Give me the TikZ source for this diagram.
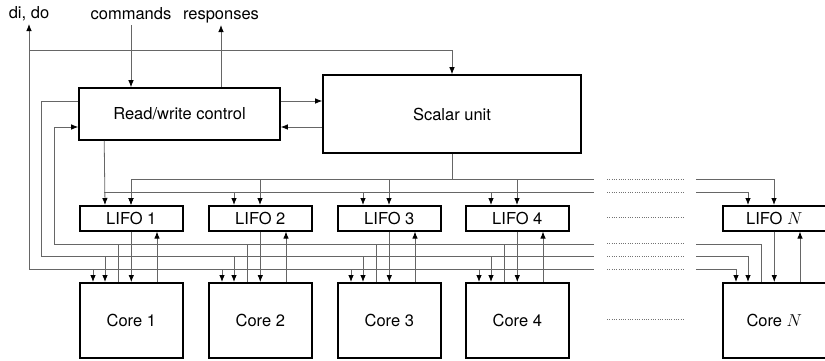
\documentclass[tikz,border=0pt]{standalone}
\usepackage{fontspec}
\setmainfont{TeX Gyre Heros}
\usetikzlibrary{arrows.meta,calc}
\begin{document}
\begin{tikzpicture}[x=1pt,y=-1pt,
  font=\fontsize{16.5}{19}\selectfont,
  box/.style={draw,line width=1.6pt,inner sep=0pt},
  wire/.style={draw=black!60,line width=0.8pt},
  arr/.style={wire,-{Latex[length=7pt,width=5.5pt,color=black]}},
  dots/.style={draw=black!55,line width=0.7pt,dash pattern=on 0.7pt off 1.6pt},
  lbl/.style={inner sep=1pt,text height=12pt,text depth=4pt,anchor=south},
]
\useasboundingbox (0,0) rectangle (825,360);

% main blocks
\node[box,minimum width=201pt,minimum height=52pt] (rw) at (179.5,114) {Read/write control};
\node[box,minimum width=258pt,minimum height=78pt] (su) at (452,114) {Scalar unit};

% LIFOs and cores, one column each
\foreach \k/\x/\t in {1/79/1,2/208/2,3/337/3,4/465/4,N/722/$N$}{
  \node[box,minimum width=103pt,minimum height=25pt,anchor=north west] (lifo\k) at (\x,205) {LIFO \t};
  \node[box,minimum width=103pt,minimum height=75pt,anchor=north west] (core\k) at (\x,282) {Core \t};
  \coordinate (a\k) at ($(core\k.north west)+(14,0)$);
  \coordinate (b\k) at ($(core\k.north west)+(26,0)$);
  \coordinate (c\k) at ($(core\k.north west)+(39,0)$);
  \coordinate (f\k) at ($(core\k.north west)+(78,0)$);
  \coordinate (d\k) at ($(lifo\k.north west)+(26,0)$);
  \coordinate (e\k) at ($(lifo\k.north west)+(52,0)$);
}

% external signals
\node[lbl] (dido) at (29,24) {di, do};
\node[lbl] (cmd) at (131,25) {commands};
\node[lbl] (resp) at (221,25) {responses};

% bus levels and the gap before column N
\coordinate (yA) at (0,269);
\coordinate (yB) at (0,256);
\coordinate (yC) at (0,244);
\coordinate (yD) at (0,192);
\coordinate (yE) at (0,179);
\coordinate (gapL) at (594,0);
\coordinate (gapR) at (696,0);

% commands / responses
\draw[arr] (cmd.south) -- (cmd.south |- rw.north);
\draw[arr] (resp.south |- rw.north) -- (resp.south);

% read/write control <-> scalar unit
\draw[arr] ($(rw.east)+(0,-13)$) -- ($(su.west)+(0,-13)$);
\draw[arr] ($(su.west)+(0,13)$) -- ($(rw.east)+(0,13)$);

% di/do bus
\coordinate (ddB) at (29,269);
\coordinate (ddTap) at (29,50);
\draw[arr] (ddB) -- (dido.south);
\draw[arr] (ddTap) -| (su.north);
\draw[wire] (ddB) -- (gapL |- yA);
\draw[arr] (gapR |- yA) -| (aN);

% read/write control -> cores
\coordinate (rwOut) at ($(rw.west)+(0,-13)$);
\draw[wire] (rwOut) -| (41,256) -- (gapL |- yB);
\draw[arr] (gapR |- yB) -| (bN);

% cores -> read/write control
\coordinate (rwIn) at ($(rw.west)+(0,13)$);
\draw[arr] (gapL |- yC) -- (54,244) |- (rwIn);
\draw[wire] (cN) |- (gapR |- yC);

% read/write control -> LIFOs
\coordinate (rwDown) at ($(rw.south west)+(26,0)$);
\draw[arr] (rwDown) -- (d1);
\draw[wire] (rwDown |- yD) -- (gapL |- yD);
\draw[arr] (gapR |- yD) -| (dN);

% scalar unit -> LIFOs
\draw[wire] (su.south) -- (su.south |- yE);
\draw[wire] (e1 |- yE) -- (gapL |- yE);
\draw[arr] (gapR |- yE) -| (eN);

\foreach \k in {1,2,3,4}{
  \draw[arr] (a\k |- yA) -- (a\k);
  \draw[arr] (b\k |- yB) -- (b\k);
  \draw[wire] (c\k) -- (c\k |- yC);
  \draw[arr] (e\k |- yE) -- (e\k);
}
\foreach \k in {2,3,4}{
  \draw[arr] (d\k |- yD) -- (d\k);
}
\draw[arr] (e1 |- yE) -- (e1);

% LIFO <-> core in every column
\foreach \k in {1,2,3,4,N}{
  \draw[arr] (lifo\k.south) -- (core\k.north);
  \draw[arr] (f\k) -- (f\k |- lifo\k.south);
}

% elided columns
\foreach \y in {179,192,217,243,256,269,319}
  \draw[dots] (607,\y) -- (685,\y);
\end{tikzpicture}
\end{document}
